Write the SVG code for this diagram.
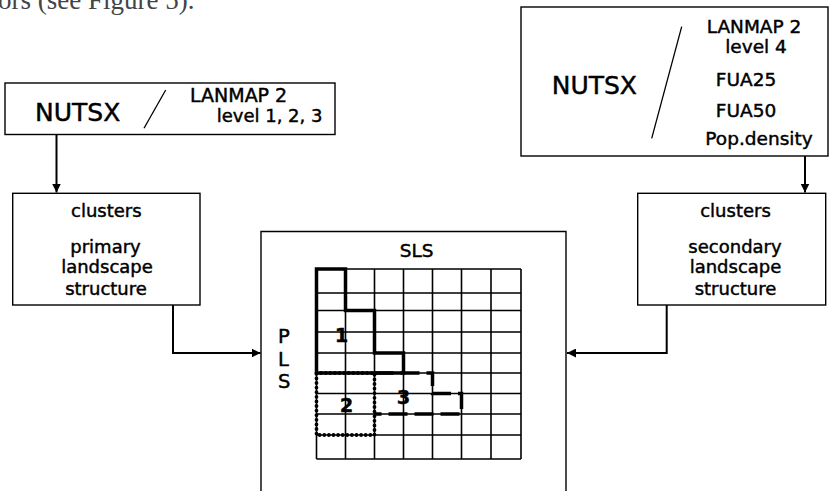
<svg xmlns="http://www.w3.org/2000/svg" width="830" height="491" viewBox="0 0 830 491">
<defs>
<style>
.box{fill:#fff;stroke:#000;stroke-width:1.4}
.t{font-family:"DejaVu Sans",Verdana,sans-serif;fill:#000;stroke:#000;stroke-width:0.45}
.m{text-anchor:middle}
.conn{fill:none;stroke:#000;stroke-width:2}
.grid{stroke:#000;stroke-width:1.6;fill:none}
.b{font-weight:bold;stroke-width:0.3}
</style>
<marker id="ah" markerUnits="userSpaceOnUse" markerWidth="10" markerHeight="9" refX="9" refY="4.5" orient="auto">
<path d="M0,0 L9,4.5 L0,9 z" fill="#000"/>
</marker>
</defs>
<rect width="830" height="491" fill="#fff"/>
<text x="-2" y="9" style="font-family:'Liberation Serif',serif;font-size:27px;fill:#444">ors (see Figure 5).</text>

<g id="nutsx-left">
<rect class="box" x="5" y="83" width="330" height="51.5"/>
<text class="t" x="35" y="120.5" font-size="25">NUTSX</text>
<line x1="165.7" y1="90" x2="144" y2="128.3" stroke="#000" stroke-width="1.3"/>
<text class="t" x="190" y="101.7" font-size="19">LANMAP 2</text>
<text class="t" x="216.7" y="121.7" font-size="18">level 1, 2, 3</text>
</g>

<g id="nutsx-right">
<rect class="box" x="521" y="7" width="307" height="149"/>
<text class="t" x="551.7" y="94.3" font-size="25">NUTSX</text>
<line x1="681.7" y1="26.7" x2="651.7" y2="138.3" stroke="#000" stroke-width="1.3"/>
<text class="t m" x="754" y="33.3" font-size="18.5">LANMAP 2</text>
<text class="t m" x="756" y="53.3" font-size="18.5">level 4</text>
<text class="t m" x="746" y="86" font-size="18.5">FUA25</text>
<text class="t m" x="746" y="116.7" font-size="18.5">FUA50</text>
<text class="t m" x="759" y="145" font-size="18.5">Pop.density</text>
</g>

<g id="clusters-primary">
<rect class="box" x="12.7" y="193.3" width="187.3" height="111.7"/>
<text class="t m" x="106.3" y="216.7" font-size="18">clusters</text>
<text class="t m" x="105.5" y="252.5" font-size="18">primary</text>
<text class="t m" x="107" y="273.3" font-size="18">landscape</text>
<text class="t m" x="106" y="295" font-size="18">structure</text>
</g>

<g id="clusters-secondary">
<rect class="box" x="637.7" y="193.3" width="188" height="111.7"/>
<text class="t m" x="735.5" y="216.7" font-size="18">clusters</text>
<text class="t m" x="735" y="252.5" font-size="18">secondary</text>
<text class="t m" x="735.5" y="273.3" font-size="18">landscape</text>
<text class="t m" x="735.5" y="295" font-size="18">structure</text>
</g>

<g id="sls">
<path d="M261,491 V231.5 H566 V491" fill="none" stroke="#000" stroke-width="1.4"/>
<text class="t m" x="416.7" y="257.3" font-size="18.5">SLS</text>
<text class="t" x="278" y="343" font-size="19.5">P</text>
<text class="t" x="278" y="366" font-size="19.5">L</text>
<text class="t" x="278" y="388" font-size="19.5">S</text>
<g class="grid">
<path d="M316.5,269 V459 M345.5,269 V459 M374.5,269 V459 M403.5,269 V459 M432.5,269 V459 M461.5,269 V459 M491,269 V459 M521,269 V459"/>
<path d="M316.5,269 H521 M316.5,293 H521 M316.5,310.5 H521 M316.5,332 H521 M316.5,353 H521 M316.5,373 H521 M316.5,393.5 H521 M316.5,414 H521 M316.5,435 H521 M316.5,459 H521"/>
</g>
<path d="M316.5,269 H345.5 V310.5 H374.5 V353 H403.5 V373 H316.5 Z" fill="none" stroke="#000" stroke-width="3.5"/>
<path d="M316.5,373 H374.5 V435 H316.5 Z" fill="none" stroke="#000" stroke-width="3.8" stroke-dasharray="0,4.6" stroke-linecap="round"/>
<path d="M374.5,373 H432.5 V393.5 H461.5 V414 H374.5" fill="none" stroke="#000" stroke-width="3.5" stroke-dasharray="19,7"/>
<text class="t m b" x="341.5" y="342" font-size="19.5">1</text>
<text class="t m b" x="346.5" y="411.7" font-size="19.5">2</text>
<text class="t m b" x="403.5" y="404" font-size="19.5">3</text>
</g>

<g id="connectors">
<path class="conn" d="M56.5,134.5 V192.5" marker-end="url(#ah)"/>
<path class="conn" d="M805,156 V192.5" marker-end="url(#ah)"/>
<path class="conn" d="M173,305 V353 H260.5" marker-end="url(#ah)"/>
<path class="conn" d="M666.7,305 V353 H567" marker-end="url(#ah)"/>
</g>
</svg>
